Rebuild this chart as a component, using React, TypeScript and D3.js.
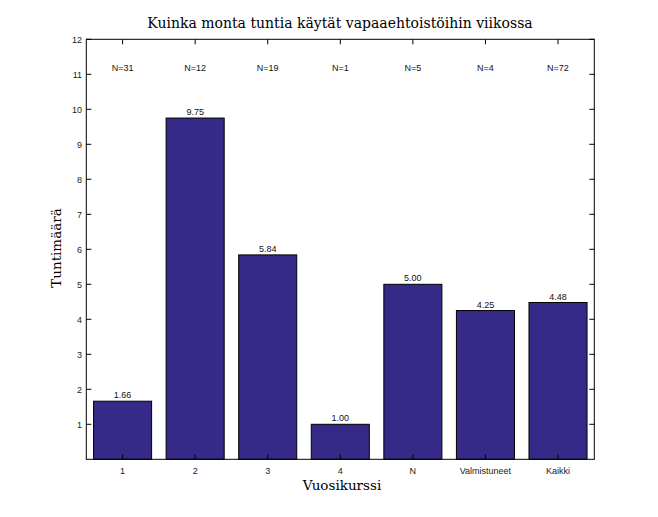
import React from 'react';
import * as d3 from 'd3';

const categories = ['1', '2', '3', '4', 'N', 'Valmistuneet', 'Kaikki'];
const hours = [1.66, 9.75, 5.84, 1.0, 5.0, 4.25, 4.48];
const counts = [31, 12, 19, 1, 5, 4, 72];
const yTicks = [1, 2, 3, 4, 5, 6, 7, 8, 9, 10, 11, 12];

const width = 658;
const height = 517;
const margin = { top: 39.3, right: 63.7, bottom: 57.7, left: 86.3 };
const barColor = '#352a87';
const sans = 'Liberation Sans, Arial, sans-serif';
const serif = 'DejaVu Serif, Liberation Serif, serif';

const App: React.FC = () => {
  const x0 = margin.left;
  const x1 = width - margin.right;
  const y0 = height - margin.bottom;
  const y1 = margin.top;

  // MATLAB style: categories sit at 1..7 with bars 0.8 wide
  const x = d3.scaleLinear().domain([0.5, categories.length + 0.5]).range([x0, x1]);
  const y = d3.scaleLinear().domain([0, 12]).range([y0, y1]);
  const barW = x(1.4) - x(0.6);
  const tick = 5;

  return (
    <svg width={width} height={height} style={{ position: 'absolute', left: 0, top: 0, background: '#fff' }}>
      <text x={340} y={28.3} textAnchor="middle" fontFamily={serif} fontSize={14} fill="#000">
        Kuinka monta tuntia käytät vapaaehtoistöihin viikossa
      </text>

      {hours.map((v, i) => (
        <g key={i}>
          <rect
            x={x(i + 1) - barW / 2}
            y={y(v)}
            width={barW}
            height={y(0) - y(v)}
            fill={barColor}
            stroke="#000"
            strokeWidth={1}
          />
          <text x={x(i + 1)} y={y(v) - 3} textAnchor="middle" fontFamily={sans} fontSize={9} fill="#111">
            {v.toFixed(2)}
          </text>
          <text x={x(i + 1)} y={y(11.2) + 3.5} textAnchor="middle" fontFamily={sans} fontSize={9} fill="#111">
            {`N=${counts[i]}`}
          </text>
        </g>
      ))}

      <rect x={x0} y={y1} width={x1 - x0} height={y0 - y1} fill="none" stroke="#000" strokeWidth={1} />

      {yTicks.map(t => (
        <g key={t}>
          <line x1={x0} x2={x0 + tick} y1={y(t)} y2={y(t)} stroke="#000" />
          <line x1={x1} x2={x1 - tick} y1={y(t)} y2={y(t)} stroke="#000" />
          <text x={82} y={y(t) + 3.5} textAnchor="end" fontFamily={sans} fontSize={9} fill="#222">
            {t}
          </text>
        </g>
      ))}

      {categories.map((c, i) => (
        <g key={c}>
          <line x1={x(i + 1)} x2={x(i + 1)} y1={y0} y2={y0 - tick} stroke="#000" />
          <line x1={x(i + 1)} x2={x(i + 1)} y1={y1} y2={y1 + tick} stroke="#000" />
          <text x={x(i + 1)} y={474} textAnchor="middle" fontFamily={sans} fontSize={9} fill="#222">
            {c}
          </text>
        </g>
      ))}

      <text x={342} y={490.3} textAnchor="middle" fontFamily={serif} fontSize={13.5} fill="#000">
        Vuosikurssi
      </text>
      <text
        transform={`translate(60.5, 248) rotate(-90)`}
        textAnchor="middle"
        fontFamily={serif}
        fontSize={13.5}
        fill="#000"
      >
        Tuntimäärä
      </text>
    </svg>
  );
};

export default App;
